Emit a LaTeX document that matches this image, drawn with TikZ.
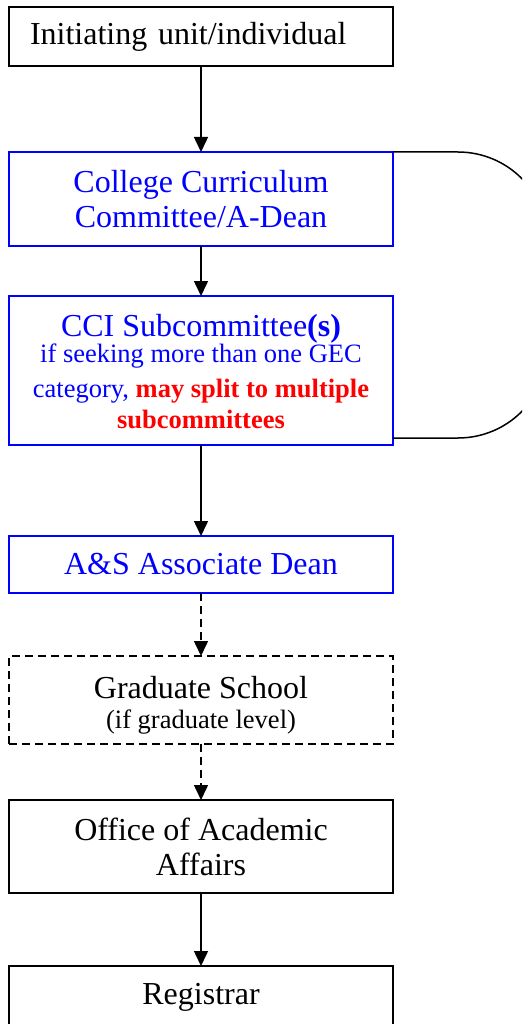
\documentclass[tikz,border=0pt]{standalone}
\usepackage{fontspec}
\setmainfont{Liberation Serif}
\usepackage{tikz}
\usetikzlibrary{arrows.meta}
\newcommand{\bigtext}{\fontsize{32}{35}\selectfont}
\newcommand{\smalltext}{\fontsize{26.5}{31}\selectfont}
\definecolor{stageblue}{RGB}{0,0,255}
\definecolor{stagered}{RGB}{255,0,0}
\tikzstyle{stage}=[draw, line width=1.5, inner sep=0, outer sep=0, minimum width=384, align=center, font=\bigtext]
\tikzstyle{bluestage}=[stage, draw=stageblue, text=stageblue]
\tikzstyle{optstage}=[stage, dash pattern=on 8 off 5]
\tikzstyle{flow}=[line width=1.5, -{Triangle[length=15, width=14]}]
\tikzstyle{optflow}=[flow, dash pattern=on 8 off 5]

\begin{document}
\begin{tikzpicture}[x=1pt, y=-1pt]
        \useasboundingbox (0, 0) rectangle (522, 1024);
        \clip (0, 0) rectangle (522, 1024);
        \node[stage, minimum height=59, text width=342, align=left] (init) at (201, 36.5) {Initiating unit/individual};
        \node[bluestage, minimum height=94] (coll) at (201, 199) {College Curriculum\\Committee/A-Dean};
        \node[bluestage, minimum height=149] (cci) at (201, 370.5)
            {\rule{0pt}{25pt}CCI Subcommittee\textbf{(s)}\\[-9pt]
             \smalltext if seeking more than one GEC\\
             \smalltext category, \textcolor{stagered}{\textbf{may split to multiple}}\\[-4pt]
             \smalltext\textcolor{stagered}{\textbf{subcommittees}}};
        \node[bluestage, minimum height=57] (asdean) at (201, 564.5) {A\&S Associate Dean};
        \node[optstage, minimum height=88] (grad) at (201, 700) {\rule{0pt}{32pt}Graduate School\\[-5pt]\smalltext (if graduate level)};
        \node[stage, minimum height=93] (oaa) at (201, 846.5) {Office of Academic\\Affairs};
        \node[stage, minimum height=62] (reg) at (201, 997) {Registrar};
        \draw[flow] (init) -- (coll);
        \draw[flow] (coll) -- (cci);
        \draw[flow] (cci) -- (asdean);
        \draw[optflow] (asdean) -- (grad);
        \draw[optflow] (grad) -- (oaa);
        \draw[flow] (oaa) -- (reg);
        \draw[line width=1.5, rounded corners=90] (coll.north east) -- ++(155, 0) -- ++(0, 286) -- ([yshift=7]cci.south east);
    \end{tikzpicture}
\end{document}
